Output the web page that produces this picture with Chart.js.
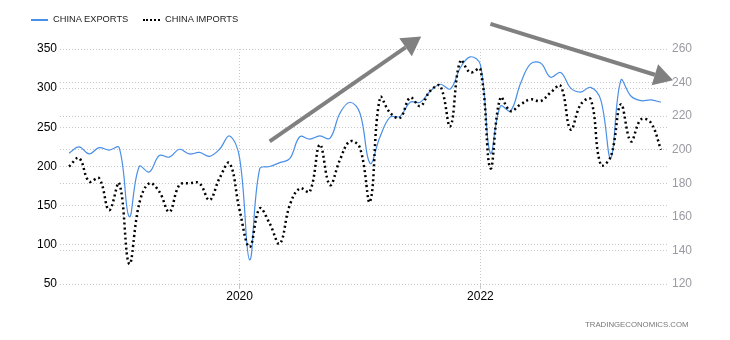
<!DOCTYPE html>
<html>
<head>
<meta charset="utf-8">
<script src="https://cdn.jsdelivr.net/npm/chart.js@4.4.1/dist/chart.umd.min.js"></script>
<style>
  body { margin: 0; background: #fff; }
  #wrap { position: relative; width: 730px; height: 340px; font-family: "Liberation Sans", Arial, sans-serif; }
  .leg { position: absolute; top: 14px; font-size: 9.3px; color: #222; white-space: nowrap; }
  .leg .sw { display: inline-block; width: 17px; vertical-align: middle; margin-right: 5px; }
  .wm { position: absolute; left: 585px; top: 320px; font-size: 7.8px; color: #777; }
</style>
</head>
<body>
<div id="wrap">
  <canvas id="myChart" width="730" height="340"></canvas>
  <div class="leg" style="left:31px"><span class="sw" style="border-top:2px solid #4a8fe7"></span>CHINA EXPORTS</div>
  <div class="leg" style="left:143px"><span class="sw" style="border-top:2px dotted #000"></span>CHINA IMPORTS</div>
  <div class="wm">TRADINGECONOMICS.COM</div>
</div>
<script>
// monthly, Aug 2018 - Jul 2023, USD billion
const months = [
  'Aug 2018', 'Sep 2018', 'Oct 2018', 'Nov 2018', 'Dec 2018',
  'Jan 2019', 'Feb 2019', 'Mar 2019', 'Apr 2019', 'May 2019', 'Jun 2019', 'Jul 2019', 'Aug 2019', 'Sep 2019', 'Oct 2019', 'Nov 2019', 'Dec 2019',
  'Jan 2020', 'Feb 2020', 'Mar 2020', 'Apr 2020', 'May 2020', 'Jun 2020', 'Jul 2020', 'Aug 2020', 'Sep 2020', 'Oct 2020', 'Nov 2020', 'Dec 2020',
  'Jan 2021', 'Feb 2021', 'Mar 2021', 'Apr 2021', 'May 2021', 'Jun 2021', 'Jul 2021', 'Aug 2021', 'Sep 2021', 'Oct 2021', 'Nov 2021', 'Dec 2021',
  'Jan 2022', 'Feb 2022', 'Mar 2022', 'Apr 2022', 'May 2022', 'Jun 2022', 'Jul 2022', 'Aug 2022', 'Sep 2022', 'Oct 2022', 'Nov 2022', 'Dec 2022',
  'Jan 2023', 'Feb 2023', 'Mar 2023', 'Apr 2023', 'May 2023', 'Jun 2023', 'Jul 2023'
];
const exportsVals = [
  217, 225, 216, 224, 221,
  224, 136, 200, 193, 214, 212, 222, 216, 218, 213, 222, 239,
  211, 81, 197, 200, 205, 210, 238, 235, 239, 236, 268, 282,
  268, 204, 238, 263, 264, 282, 282, 296, 305, 299, 326, 340,
  330, 217, 277, 271, 306, 331, 332, 314, 320, 300, 295, 301,
  285, 211, 310, 290, 284, 285, 282
];
const importsVals = [
  190, 195, 181, 183, 164,
  180, 132, 168, 180, 175, 163, 179, 180, 180, 170, 183, 192,
  164, 142, 165, 156, 144, 167, 177, 175, 203, 179, 194, 205,
  201, 169, 231, 222, 219, 231, 226, 235, 238, 214, 253, 246,
  248, 189, 231, 223, 227, 230, 229, 234, 238, 212, 227, 230,
  191, 196, 227, 205, 218, 216, 200
];
const yearTickMonths = ['Jan 2020', 'Jan 2022'];
const yearTickLabels = ['2020', '2022'];

// trend arrows, in (month index, left-axis value)
const arrows = [
  { from: [20.0, 232], to: [35.1, 366] },
  { from: [42.0, 382], to: [60.2, 310] }
];

const arrowPlugin = {
  id: 'arrows',
  afterDatasetsDraw(chart) {
    const ctx = chart.ctx;
    const xs = chart.scales.x, ys = chart.scales.y;
    ctx.save();
    ctx.strokeStyle = '#808080';
    ctx.fillStyle = '#808080';
    arrows.forEach(a => {
      const x1 = xs.getPixelForValue(a.from[0]), y1 = ys.getPixelForValue(a.from[1]);
      const x2 = xs.getPixelForValue(a.to[0]), y2 = ys.getPixelForValue(a.to[1]);
      const ang = Math.atan2(y2 - y1, x2 - x1);
      const len = 19, half = 11;
      const bx = x2 - len * Math.cos(ang), by = y2 - len * Math.sin(ang);
      ctx.lineWidth = 4;
      ctx.beginPath();
      ctx.moveTo(x1, y1);
      ctx.lineTo(bx, by);
      ctx.stroke();
      ctx.beginPath();
      ctx.moveTo(x2, y2);
      ctx.lineTo(bx + half * Math.sin(ang), by - half * Math.cos(ang));
      ctx.lineTo(bx - half * Math.sin(ang), by + half * Math.cos(ang));
      ctx.closePath();
      ctx.fill();
    });
    ctx.restore();
  }
};

const gridColor = '#c8c8c8';
const ctx = document.getElementById('myChart').getContext('2d');

new Chart(ctx, {
  type: 'line',
  data: {
    datasets: [{
      label: 'CHINA IMPORTS',
      data: importsVals.map((v, i) => ({ x: i, y: v })),
      yAxisID: 'y1',
      borderColor: '#000',
      borderWidth: 2.5,
      borderDash: [2, 3],
      tension: 0.4,
      pointRadius: 0,
      order: 0
    }, {
      label: 'CHINA EXPORTS',
      data: exportsVals.map((v, i) => ({ x: i, y: v })),
      yAxisID: 'y',
      borderColor: '#4a8fe7',
      borderWidth: 1.2,
      tension: 0.4,
      pointRadius: 0,
      order: 1
    }]
  },
  options: {
    responsive: false,
    animation: false,
    layout: { padding: { top: 49, left: 0, right: 0, bottom: 0 } },
    plugins: { legend: { display: false }, tooltip: { enabled: false } },
    scales: {
      x: {
        type: 'linear',
        min: -0.9,
        max: 59.7,
        afterFit(axis) { axis.height = 56; },
        afterBuildTicks(axis) {
          axis.ticks = yearTickMonths.map(m => ({ value: months.indexOf(m) }));
        },
        ticks: {
          color: '#000',
          font: { size: 12, family: '"Liberation Sans", Arial, sans-serif' },
          padding: 0,
          maxRotation: 0,
          callback: v => yearTickLabels[yearTickMonths.indexOf(months[v])]
        },
        grid: { color: gridColor, tickLength: 5 },
        border: { display: false, dash: [1, 2] }
      },
      y: {
        position: 'left',
        min: 50,
        max: 350,
        afterFit(axis) { axis.width = 60; },
        ticks: {
          stepSize: 50,
          color: '#000',
          padding: 3,
          font: { size: 12, family: '"Liberation Sans", Arial, sans-serif' }
        },
        grid: { color: gridColor, drawTicks: false },
        border: { display: false, dash: [1, 2] }
      },
      y1: {
        position: 'right',
        min: 120,
        max: 260,
        afterFit(axis) { axis.width = 62; },
        ticks: {
          stepSize: 20,
          color: '#9a9aa2',
          padding: 4,
          font: { size: 12, family: '"Liberation Sans", Arial, sans-serif' }
        },
        grid: { color: gridColor, drawTicks: false },
        border: { display: false, dash: [1, 2] }
      }
    }
  },
  plugins: [arrowPlugin]
});
</script>
</body>
</html>
